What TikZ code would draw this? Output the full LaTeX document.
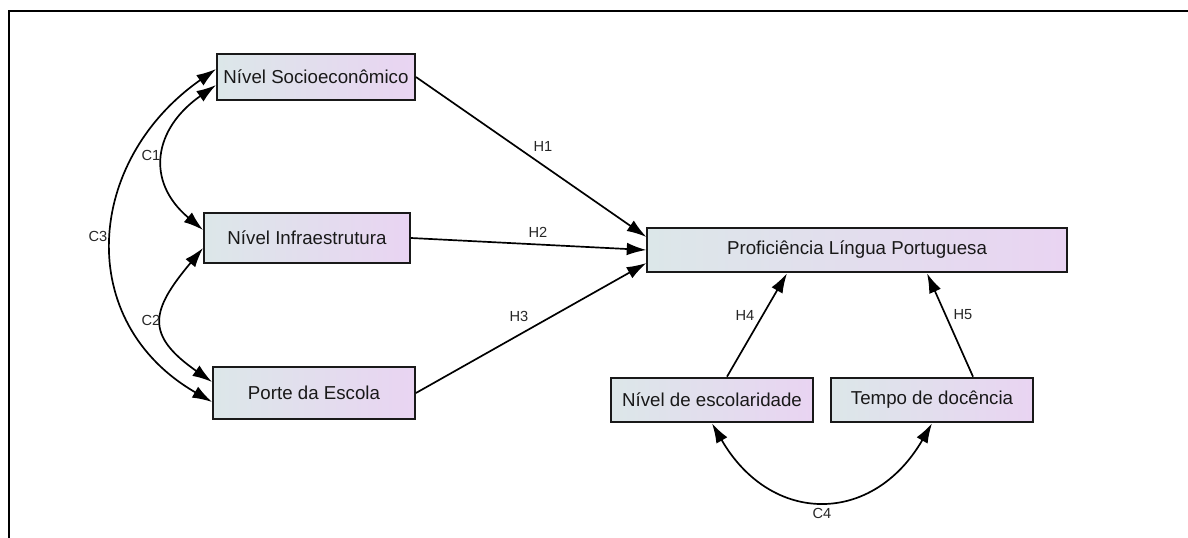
\documentclass[tikz,border=0pt]{standalone}
\usepackage{fontspec}
\setmainfont{Liberation Sans}
\usetikzlibrary{arrows.meta}
\definecolor{boxleft}{RGB}{220,231,233}
\definecolor{boxright}{RGB}{233,212,242}
\tikzset{
  var/.style={draw=black!90, line width=1.3pt, left color=boxleft, right color=boxright,
    font=\fontsize{13.3}{15}\selectfont, text=black!90, inner sep=0pt},
  hyp/.style={-{Latex[length=14pt,width=9pt]}, line width=1.2pt},
  cov/.style={{Latex[length=14pt,width=9pt]}-{Latex[length=14pt,width=9pt]}, line width=1.2pt},
  lbl/.style={font=\fontsize{10.4}{12}\selectfont, text=black!85, inner sep=0pt}
}

\begin{document}
\begin{tikzpicture}[x=0.025cm, y=0.025cm]
      \useasboundingbox (0,0) rectangle (1188,-538);
      % moldura
      \draw [line width=2.1pt] (9,-538) -- (9,-11) -- (1188,-11);

      % variaveis
      \node [var, minimum width=4.95cm, minimum height=1.15cm] (soc) at (316,-77) {Nível Socioeconômico};
      \node [var, minimum width=5.15cm, minimum height=1.25cm] (infra) at (307,-238) {Nível Infraestrutura};
      \node [var, minimum width=5.05cm, minimum height=1.32cm] (porte) at (314,-393) {Porte da Escola};
      \node [var, minimum width=10.48cm, minimum height=1.12cm] (prof) at (857,-250) {Proficiência Língua Portuguesa};
      \node [var, minimum width=5.05cm, minimum height=1.12cm] (esc) at (712,-400) {Nível de escolaridade};
      \node [var, minimum width=5.05cm, minimum height=1.12cm] (tempo) at (932,-400) {Tempo de docência};

      % hipoteses
      \draw [hyp] (soc.east) -- ([yshift=0.325cm]prof.west);
      \draw [hyp] (infra.east) -- (prof.west);
      \draw [hyp] (porte.east) -- ([yshift=-0.325cm]prof.west);
      \draw [hyp] ([xshift=0.375cm]esc.north) -- ([xshift=-1.75cm]prof.south);
      \draw [hyp] ([xshift=1.025cm]tempo.north) -- ([xshift=1.75cm]prof.south);

      \node [lbl] (h1) at (543,-146) {H1};
      \node [lbl] (h2) at (538,-232) {H2};
      \node [lbl] (h3) at (519,-316) {H3};
      \node [lbl] (h4) at (745,-315) {H4};
      \node [lbl] (h5) at (963,-315) {H5};

      % covariancias
      \draw [cov] ([yshift=-0.2cm]soc.west) .. controls +(215:76) and +(140:76) .. ([yshift=0.2cm]infra.west);
      \draw [cov] ([yshift=-0.25cm]infra.west) .. controls +(230:82) and +(145:82) .. ([yshift=0.275cm]porte.west);
      \draw [cov] ([yshift=0.2cm]soc.west) .. controls +(215:160) and +(150:160) .. ([yshift=-0.225cm]porte.west);
      \draw [cov] (esc.south) .. controls +(-60:118) and +(240:118) .. (tempo.south);

      \node [lbl] (c1) at (151,-155) {C1};
      \node [lbl] (c2) at (151,-320) {C2};
      \node [lbl] (c3) at (98,-236) {C3};
      \node [lbl] (c4) at (822,-513) {C4};
\end{tikzpicture}
\end{document}
